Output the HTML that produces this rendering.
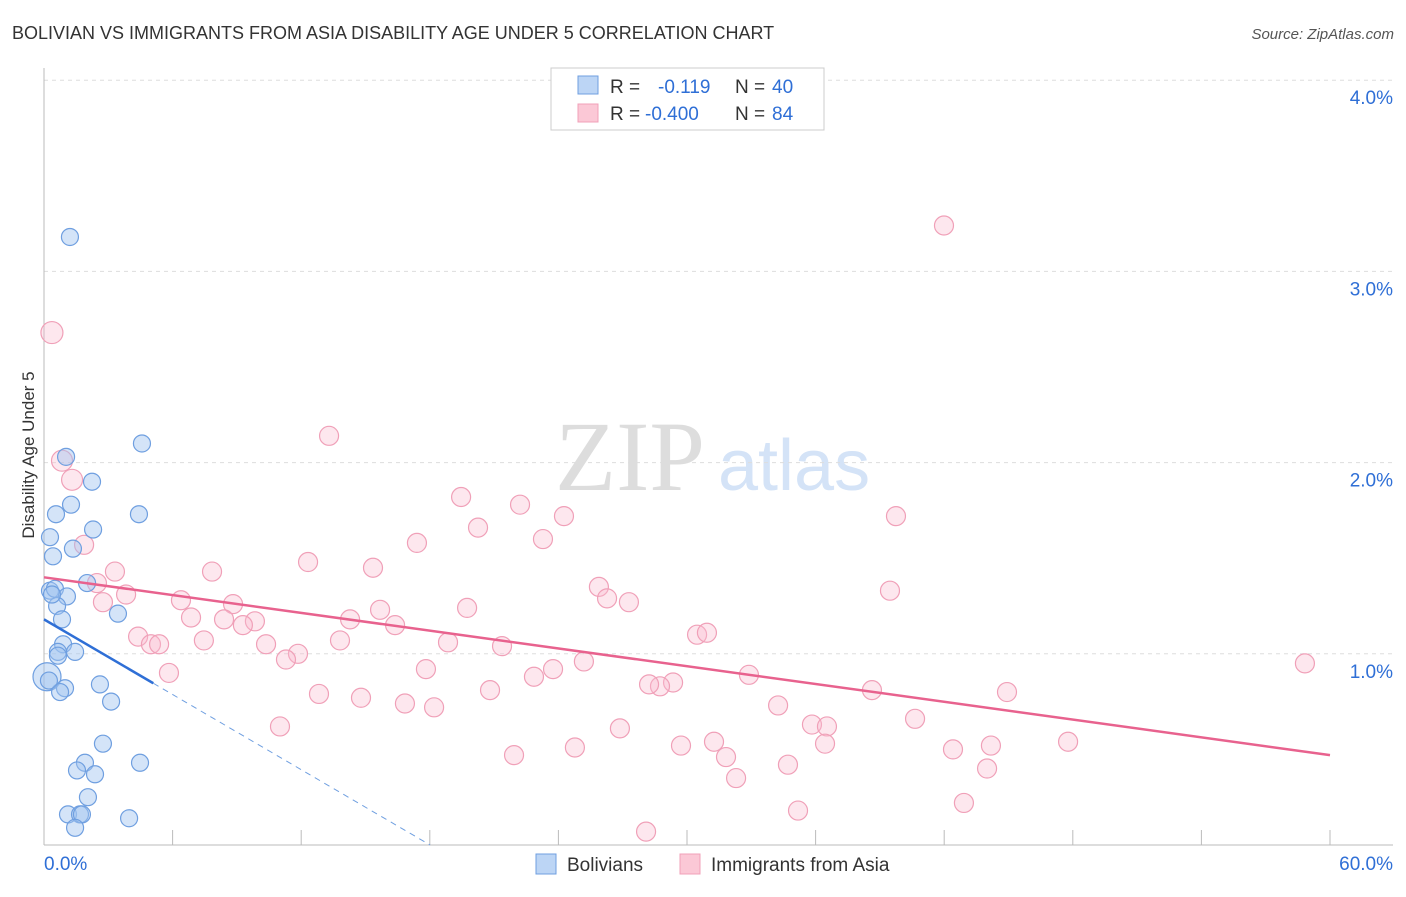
<!DOCTYPE html>
<html><head><meta charset="utf-8"><style>
body{margin:0;background:#fff;font-family:"Liberation Sans",sans-serif}
</style></head><body>
<svg id="chart" width="1406" height="892" xmlns="http://www.w3.org/2000/svg" font-family="Liberation Sans, sans-serif">
<text x="12" y="39" font-size="18" fill="#333">BOLIVIAN VS IMMIGRANTS FROM ASIA DISABILITY AGE UNDER 5 CORRELATION CHART</text>
<text x="1394" y="39" font-size="15" fill="#555" text-anchor="end" font-style="italic">Source: ZipAtlas.com</text>
<text x="555" y="490" font-size="100" fill="#ddd" font-family="Liberation Serif, serif">ZIP</text>
<text x="718" y="490" font-size="72" fill="#d4e3f7">atlas</text>
<g id="grid"></g><g id="axes"></g><g id="pts"></g><g id="lines"></g>
<text transform="translate(34,455) rotate(-90)" font-size="17" fill="#333" text-anchor="middle">Disability Age Under 5</text>
<g>
<rect x="551" y="68" width="273" height="62" fill="#fff" stroke="#ccc"/>
<rect x="578" y="76" width="20" height="18" fill="#bcd5f5" stroke="#6f9fe0"/>
<rect x="578" y="104" width="20" height="18" fill="#fbc8d6" stroke="#f0a0b8"/>
<text x="610" y="93" font-size="19" fill="#333">R = </text><text x="658" y="93" font-size="19" fill="#2f6fd6">-0.119</text>
<text x="735" y="93" font-size="19" fill="#333">N =</text><text x="772" y="93" font-size="19" fill="#2f6fd6">40</text>
<text x="610" y="120" font-size="19" fill="#333">R = </text><text x="645" y="120" font-size="19" fill="#2f6fd6">-0.400</text>
<text x="735" y="120" font-size="19" fill="#333">N =</text><text x="772" y="120" font-size="19" fill="#2f6fd6">84</text>
</g>
<g>
<rect x="536" y="854" width="20" height="20" fill="#bcd5f5" stroke="#6f9fe0"/>
<text x="567" y="871" font-size="19" fill="#333">Bolivians</text>
<rect x="680" y="854" width="20" height="20" fill="#fbc8d6" stroke="#f0a0b8"/>
<text x="711" y="871" font-size="19" fill="#333">Immigrants from Asia</text>
</g>
</svg>
<script>
const yTicks=[1,2,3,4];
const yTickLabels=["1.0%","2.0%","3.0%","4.0%"];
const xTickLabels=["0.0%","60.0%"];
const boliviansX=[1.21,4.57,1.03,2.24,4.43,0.56,1.26,2.29,0.28,1.35,0.42,0.28,0.51,2.01,1.07,0.61,3.45,0.84,0.89,0.65,1.45,0.14,0.98,0.75,2.61,3.13,2.75,1.91,1.54,4.48,2.38,2.05,1.12,1.68,1.77,3.97,1.45,0.37,0.23,0.65];
const boliviansY=[3.18,2.10,2.03,1.90,1.73,1.73,1.78,1.65,1.61,1.55,1.51,1.33,1.34,1.37,1.30,1.25,1.21,1.18,1.05,1.01,1.01,0.88,0.82,0.80,0.84,0.75,0.53,0.43,0.39,0.43,0.37,0.25,0.16,0.16,0.16,0.14,0.09,1.31,0.86,0.99];
const asiaX=[41.99,0.37,13.30,0.84,1.31,19.46,22.21,39.75,20.25,24.26,1.87,23.28,17.40,12.32,3.31,7.84,15.35,2.47,25.89,39.47,3.83,6.39,27.29,2.75,26.27,8.82,19.74,6.86,8.40,15.68,14.28,9.84,16.38,9.28,4.39,30.47,30.93,4.99,5.37,7.46,10.36,13.81,18.85,21.37,11.85,11.29,25.19,5.83,58.83,17.82,23.75,32.89,22.86,29.35,28.74,28.23,12.83,20.81,38.63,44.93,14.79,16.84,18.20,34.25,11.01,40.64,26.87,35.83,36.53,47.78,36.44,31.26,29.72,24.77,42.41,44.18,21.93,31.82,34.71,44.00,32.29,42.92,35.18,28.09];
const asiaY=[3.24,2.68,2.14,2.01,1.91,1.82,1.78,1.72,1.66,1.72,1.57,1.60,1.58,1.48,1.43,1.43,1.45,1.37,1.35,1.33,1.31,1.28,1.27,1.27,1.29,1.26,1.24,1.19,1.18,1.23,1.18,1.17,1.15,1.15,1.09,1.10,1.11,1.05,1.05,1.07,1.05,1.07,1.06,1.04,1.00,0.97,0.96,0.90,0.95,0.92,0.92,0.89,0.88,0.85,0.83,0.84,0.79,0.81,0.81,0.80,0.77,0.74,0.72,0.73,0.62,0.66,0.61,0.63,0.62,0.54,0.53,0.54,0.52,0.51,0.50,0.52,0.47,0.46,0.42,0.40,0.35,0.22,0.18,0.07];
const asiaTrend=[1.40,0.47];
const bolTrend=[1.18,-0.0655];
const NS="http://www.w3.org/2000/svg";
const X0=44,X1=1330,Y0=845,YS=191.2;
const sx=v=>X0+v/60*(X1-X0), sy=v=>Y0-v*YS;
function mk(tag,attrs,parent){const e=document.createElementNS(NS,tag);for(const k in attrs)e.setAttribute(k,attrs[k]);document.getElementById(parent).appendChild(e);return e;}
yTicks.forEach((t,i)=>{
 const l=mk('line',{x1:X0,x2:1393,y1:sy(t),y2:sy(t),stroke:'#ddd','stroke-dasharray':'4,4'},'grid');
 
 
 const tx=mk('text',{x:1393,y:sy(t)+24,'font-size':19,fill:'#2f6fd6','text-anchor':'end'},'grid');
 tx.textContent=yTickLabels[i];
 
 
});
let a=mk('line',{x1:X0,x2:X0,y1:68,y2:Y0,stroke:'#bbb'},'axes');


a=mk('line',{x1:X0,x2:1393,y1:Y0,y2:Y0,stroke:'#bbb'},'axes');


for(let i=0;i<=10;i++){const t=mk('line',{x1:sx(i*6),x2:sx(i*6),y1:Y0-15,y2:Y0,stroke:'#bbb'},'axes');
 
 }
[[0,'start',44],[60,'end',1393]].forEach((d,i)=>{const t=mk('text',{x:d[2],y:870,'font-size':19,fill:'#2f6fd6','text-anchor':d[1]},'axes');t.textContent=xTickLabels[i];
 
 });
asiaX.forEach((x,i)=>{const c=mk('circle',{cx:sx(x),cy:sy(asiaY[i]),r:(i==1?11:(i==3||i==4?10.5:9.5)),fill:'rgba(248,185,205,0.35)',stroke:'#f0a0b8','stroke-width':1.2},'pts');
 
 });
boliviansX.forEach((x,i)=>{const c=mk('circle',{cx:sx(x),cy:sy(boliviansY[i]),r:(i==21?14:8.5),fill:'rgba(160,196,240,0.45)',stroke:'#6f9fe0','stroke-width':1.2},'pts');
 
 });
let ln=mk('line',{x1:sx(0),y1:sy(asiaTrend[0]),x2:sx(60),y2:sy(asiaTrend[1]),stroke:'#e8628e','stroke-width':2.5},'lines');


const xe=5.1, xz=-bolTrend[0]/bolTrend[1];
ln=mk('line',{x1:sx(0),y1:sy(bolTrend[0]),x2:sx(xe),y2:sy(bolTrend[0]+bolTrend[1]*xe),stroke:'#2f6fd6','stroke-width':2.5},'lines');


ln=mk('line',{x1:sx(xe),y1:sy(bolTrend[0]+bolTrend[1]*xe),x2:sx(xz),y2:sy(0),stroke:'#6f9fe0','stroke-width':1,'stroke-dasharray':'6,5'},'lines');


</script>
</body></html>
